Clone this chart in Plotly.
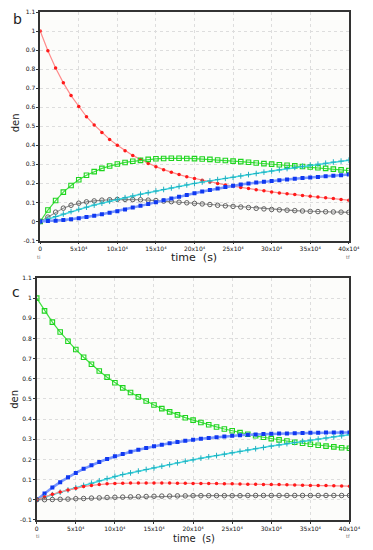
import plotly.graph_objects as go

# time in units of 10^4 s
t_units = [0, 1, 2, 3, 4, 5, 6, 7, 8, 9, 10, 11, 12, 13, 14, 15, 16, 17, 18, 19, 20,
           21, 22, 23, 24, 25, 26, 27, 28, 29, 30, 31, 32, 33, 34, 35, 36, 37, 38, 39, 40]

# panel b
b_red = [1.0, 0.897, 0.806, 0.728, 0.661, 0.604, 0.550, 0.507, 0.467, 0.431, 0.400,
         0.372, 0.347, 0.325, 0.305, 0.288, 0.272, 0.258, 0.246, 0.235, 0.226,
         0.216, 0.207, 0.199, 0.192, 0.186, 0.179, 0.173, 0.167, 0.161, 0.155,
         0.150, 0.145, 0.141, 0.136, 0.132, 0.128, 0.124, 0.120, 0.116, 0.112]
b_green = [0.0, 0.060, 0.110, 0.154, 0.189, 0.219, 0.243, 0.262, 0.279, 0.291, 0.302,
           0.310, 0.316, 0.321, 0.326, 0.329, 0.331, 0.332, 0.332, 0.331, 0.330,
           0.328, 0.326, 0.323, 0.320, 0.317, 0.314, 0.311, 0.307, 0.304, 0.301,
           0.298, 0.295, 0.292, 0.289, 0.286, 0.282, 0.279, 0.275, 0.271, 0.267]
b_gray = [0.0, 0.023, 0.049, 0.070, 0.085, 0.096, 0.103, 0.108, 0.112, 0.114, 0.116,
          0.116, 0.115, 0.114, 0.112, 0.110, 0.107, 0.104, 0.101, 0.098, 0.095,
          0.092, 0.089, 0.085, 0.082, 0.079, 0.076, 0.073, 0.069, 0.066, 0.063,
          0.061, 0.059, 0.057, 0.055, 0.053, 0.052, 0.051, 0.050, 0.049, 0.048]
b_cyan = [0.0, 0.013, 0.026, 0.039, 0.052, 0.064, 0.075, 0.086, 0.096, 0.106, 0.116,
          0.125, 0.134, 0.143, 0.151, 0.160, 0.168, 0.176, 0.184, 0.192, 0.200,
          0.207, 0.213, 0.220, 0.226, 0.232, 0.239, 0.246, 0.252, 0.259, 0.265,
          0.271, 0.278, 0.284, 0.290, 0.296, 0.301, 0.306, 0.312, 0.317, 0.322]
b_blue = [0.0, 0.002, 0.004, 0.008, 0.012, 0.017, 0.023, 0.030, 0.038, 0.046, 0.054,
          0.063, 0.073, 0.082, 0.092, 0.101, 0.111, 0.121, 0.130, 0.139, 0.148,
          0.157, 0.165, 0.173, 0.181, 0.188, 0.194, 0.199, 0.204, 0.209, 0.213,
          0.217, 0.221, 0.224, 0.228, 0.231, 0.234, 0.237, 0.240, 0.243, 0.246]

# panel c
c_green = [1.0, 0.937, 0.881, 0.832, 0.786, 0.745, 0.707, 0.672, 0.639, 0.608, 0.580,
           0.555, 0.532, 0.510, 0.490, 0.470, 0.452, 0.436, 0.421, 0.407, 0.395,
           0.383, 0.372, 0.361, 0.351, 0.342, 0.333, 0.325, 0.317, 0.310, 0.303,
           0.297, 0.291, 0.285, 0.280, 0.275, 0.270, 0.266, 0.262, 0.258, 0.255]
c_blue = [0.0, 0.031, 0.060, 0.087, 0.111, 0.133, 0.153, 0.171, 0.187, 0.202, 0.215,
          0.227, 0.238, 0.248, 0.257, 0.265, 0.273, 0.280, 0.286, 0.292, 0.297,
          0.302, 0.306, 0.310, 0.314, 0.317, 0.320, 0.322, 0.324, 0.326, 0.327,
          0.328, 0.329, 0.330, 0.331, 0.332, 0.332, 0.333, 0.333, 0.333, 0.333]
c_cyan = [0.0, 0.013, 0.025, 0.037, 0.048, 0.059, 0.071, 0.082, 0.094, 0.105, 0.116,
          0.125, 0.133, 0.142, 0.150, 0.158, 0.166, 0.174, 0.183, 0.191, 0.198,
          0.206, 0.213, 0.219, 0.226, 0.233, 0.240, 0.247, 0.253, 0.259, 0.266,
          0.272, 0.278, 0.284, 0.290, 0.296, 0.301, 0.306, 0.312, 0.317, 0.322]
c_red = [0.0, 0.014, 0.027, 0.038, 0.048, 0.057, 0.065, 0.071, 0.076, 0.079, 0.081,
         0.082, 0.083, 0.083, 0.083, 0.083, 0.083, 0.083, 0.082, 0.082, 0.081,
         0.081, 0.080, 0.080, 0.079, 0.079, 0.078, 0.077, 0.077, 0.076, 0.075,
         0.075, 0.074, 0.073, 0.072, 0.071, 0.070, 0.070, 0.069, 0.068, 0.067]
c_gray = [0.0, 0.000, 0.001, 0.002, 0.003, 0.005, 0.006, 0.008, 0.009, 0.011, 0.012,
          0.013, 0.014, 0.015, 0.016, 0.017, 0.018, 0.018, 0.019, 0.019, 0.020,
          0.020, 0.020, 0.020, 0.020, 0.020, 0.020, 0.021, 0.021, 0.021, 0.021,
          0.021, 0.021, 0.021, 0.021, 0.021, 0.021, 0.021, 0.021, 0.021, 0.021]

x_tickvals = [0, 50000, 100000, 150000, 200000, 250000, 300000, 350000, 400000]
x_ticktext = ["0", "5x10⁴", "10x10⁴", "15x10⁴", "20x10⁴", "25x10⁴", "30x10⁴",
              "35x10⁴", "40x10⁴"]
y_tickvals = [-0.1, 0, 0.1, 0.2, 0.3, 0.4, 0.5, 0.6, 0.7, 0.8, 0.9, 1.0, 1.1]
y_ticktext = ["-0.1", "0", "0.1", "0.2", "0.3", "0.4", "0.5", "0.6", "0.7",
              "0.8", "0.9", "1", "1.1"]

t = [u * 10000 for u in t_units]

STY = {
    "red": dict(line=dict(color="#ff8a8a", width=1.2),
                marker=dict(symbol="circle", size=3.5, color="#ff1a1a")),
    "green": dict(line=dict(color="#40e040", width=1.2),
                  marker=dict(symbol="square-open", size=4.5, color="#1ed41e",
                              line=dict(width=1.1))),
    "gray": dict(line=dict(color="#8a8a8a", width=1.1),
                 marker=dict(symbol="circle-open", size=4.5, color="#606060",
                             line=dict(width=1))),
    "cyan": dict(line=dict(color="#40d8e0", width=1.5),
                 marker=dict(symbol="cross-thin-open", size=4, color="#20b0c0",
                             line=dict(width=1, color="#20b0c0"))),
    "blue": dict(line=dict(color="#7896ff", width=2.5),
                 marker=dict(symbol="square", size=4, color="#1038f0")),
}

fig = go.Figure()

def add(y, key, xa, ya):
    s = STY[key]
    fig.add_trace(go.Scatter(x=t, y=y, mode="lines+markers", line=s["line"],
                             marker=s["marker"], xaxis=xa, yaxis=ya,
                             showlegend=False, hoverinfo="skip"))

for y, k in [(b_red, "red"), (b_green, "green"), (b_gray, "gray"),
             (b_cyan, "cyan"), (b_blue, "blue")]:
    add(y, k, "x", "y")
for y, k in [(c_green, "green"), (c_blue, "blue"), (c_cyan, "cyan"),
             (c_red, "red"), (c_gray, "gray")]:
    add(y, k, "x2", "y2")

# page has an 8px body margin; figure is sized so that it fills the 373x550 window
OFF = 8
W, H = 373 - OFF, 550 - OFF

def px(x):
    return (x - OFF) / W

def py(y):
    return 1 - (y - OFF) / H

top_dom_x = [px(39.3), px(359.3)]
top_dom_y = [py(239.5), py(8)]
bot_dom_x = [px(35.7), px(360)]
bot_dom_y = [py(522.5), py(277.5)]

xcommon = dict(range=[0, 400000], tickvals=x_tickvals, ticktext=x_ticktext,
               showgrid=True, gridcolor="#dddddd", griddash="dot", gridwidth=1,
               zeroline=False, showline=True, linecolor="#333333", linewidth=1.5,
               mirror=True, ticks="outside", ticklen=2, tickcolor="#333333",
               ticklabeloverflow="allow",
               tickfont=dict(family="DejaVu Sans", size=6, color="#111111"))
ycommon = dict(range=[-0.1, 1.1], tickvals=y_tickvals, ticktext=y_ticktext,
               showgrid=True, gridcolor="#dddddd", griddash="dot", gridwidth=1,
               zeroline=False, showline=True, linecolor="#333333", linewidth=1.5,
               mirror=True, ticks="outside", ticklen=2, tickcolor="#333333",
               ticklabeloverflow="allow",
               tickfont=dict(family="DejaVu Sans", size=6, color="#111111"))

fig.update_layout(
    width=W, height=H, margin=dict(l=0, r=0, t=0, b=0),
    paper_bgcolor="white", plot_bgcolor="#fcfcfa",
    xaxis=dict(domain=top_dom_x, anchor="y", **xcommon),
    yaxis=dict(domain=top_dom_y, anchor="x", **ycommon),
    xaxis2=dict(domain=bot_dom_x, anchor="y2", **xcommon),
    yaxis2=dict(domain=bot_dom_y, anchor="x2", **ycommon),
)

def txt(x, y, s, size, color="#222222", angle=0):
    fig.add_annotation(x=px(x), y=py(y), xref="paper", yref="paper", text=s,
                       showarrow=False, textangle=angle,
                       font=dict(family="DejaVu Sans", size=size, color=color),
                       xanchor="center", yanchor="middle")

txt(16, 15, "b", 14)
txt(14, 292, "c", 14)
txt(14, 120, "den", 10, angle=-90)
txt(13, 400, "den", 10, angle=-90)
txt(199, 257, "time  (s)", 11)
txt(199, 541, "time  (s)", 10)
txt(38, 256, "ti", 5, "#666666")
txt(358, 256, "tf", 5, "#666666")
txt(36, 539, "ti", 5, "#666666")
txt(358, 539, "tf", 5, "#666666")

fig.write_html("out.html", config={"displayModeBar": False})
